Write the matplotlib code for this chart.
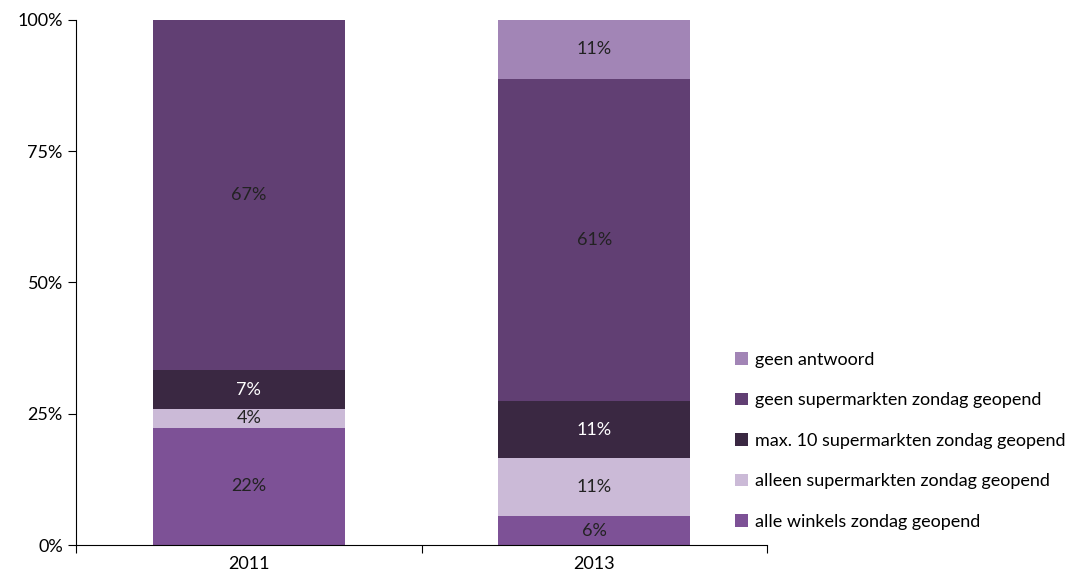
from matplotlib import pyplot as plt
from matplotlib.ticker import PercentFormatter
import numpy as np

years = ['2011', '2013']
series = ['alle winkels zondag geopend',
          'alleen supermarkten zondag geopend',
          'max. 10 supermarkten zondag geopend',
          'geen supermarkten zondag geopend',
          'geen antwoord']
alle_winkels = [22.3, 5.5]
alleen_super = [3.6, 11.0]
max_10 = [7.4, 11.0]
geen_super = [66.7, 61.3]
geen_antwoord = [0.0, 11.2]

values = [alle_winkels, alleen_super, max_10, geen_super, geen_antwoord]
colors = ['#7d5196', '#cbbad7', '#3a2842', '#613f73', '#a285b6']
text_colors = ['#222222', '#222222', 'white', '#222222', '#222222']

plt.rcParams['font.family'] = ['Lato', 'DejaVu Sans']
plt.rcParams['font.size'] = 13

fig = plt.figure(figsize=(10.7, 5.79), dpi=100)
ax = fig.add_axes([0.071, 0.0587, 0.646, 0.9068])

x = np.arange(len(years))
bottom = np.zeros(len(years))
for name, vals, c, tc in zip(series, values, colors, text_colors):
    vals = np.array(vals)
    ax.bar(x, vals, bottom=bottom, width=0.556, color=c, label=name)
    for xi, b, v in zip(x, bottom, vals):
        if v > 0:
            ax.text(xi, b + v / 2, '%.0f%%' % v, ha='center', va='center',
                    color=tc)
    bottom += vals

ax.set_xlim(-0.5, 1.5)
ax.set_ylim(0, 100)
ax.set_yticks([0, 25, 50, 75, 100])
ax.yaxis.set_major_formatter(PercentFormatter(decimals=0))
ax.set_xticks([-0.5, 0.5, 1.5])
ax.set_xticklabels([])
ax.set_xticks(x, minor=True)
ax.set_xticklabels(years, minor=True)
ax.tick_params(axis='x', which='minor', length=0, pad=8)
ax.tick_params(axis='x', which='major', length=6, direction='out')
ax.tick_params(axis='y', length=6, direction='out')
for s in ['top', 'right']:
    ax.spines[s].set_visible(False)

h, l = ax.get_legend_handles_labels()
fig.legend(h[::-1], l[::-1], loc='upper left', bbox_to_anchor=(0.672, 0.42),
           frameon=False, handlelength=0.7, handleheight=0.7,
           handletextpad=0.4, labelspacing=1.35)

plt.savefig('out.png', dpi=100)
